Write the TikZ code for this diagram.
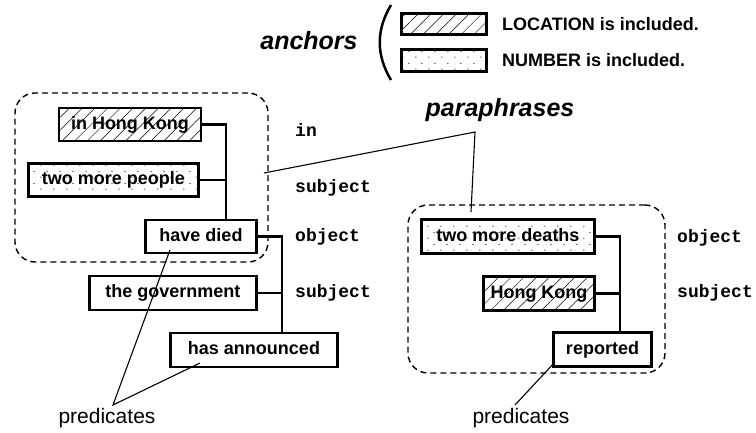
\documentclass[tikz,border=0pt]{standalone}
\usepackage{fontspec}
\setmainfont{Liberation Sans}
\newfontfamily\monofont{Liberation Mono}
\usetikzlibrary{patterns.meta}
\pgfdeclarepattern{
  name=sparsedots,
  parameters={},
  bottom left={\pgfpoint{0pt}{0pt}},
  top right={\pgfpoint{12.5pt}{12pt}},
  tile size={\pgfpoint{12.5pt}{12pt}},
  code={
    \pgfpathcircle{\pgfpoint{3pt}{3pt}}{0.65pt}
    \pgfpathcircle{\pgfpoint{9.25pt}{9pt}}{0.65pt}
    \pgfusepath{fill}
  }
}
\begin{document}
\begin{tikzpicture}[x=1pt,y=-1pt,
 box/.style={draw, line width=2.6pt, inner sep=0pt, font=\fontsize{18}{20}\selectfont\bfseries, text height=13pt, text depth=4pt},
 hatch/.style={box, pattern={Lines[angle=45,distance=9pt,line width=0.5pt]}},
 dotty/.style={box, pattern=sparsedots},
 conn/.style={line width=2.6pt},
 grp/.style={draw, line width=1.4pt, dash pattern=on 6pt off 4pt, rounded corners=20pt, inner sep=0pt},
 rel/.style={anchor=base west, inner sep=0pt, font=\fontsize{18}{20}\monofont\bfseries},
 thin/.style={line width=1.1pt},
 hdr/.style={font=\fontsize{25}{28}\selectfont\bfseries\itshape, inner sep=0pt},
 pred/.style={font=\fontsize{21}{24}\selectfont, inner sep=0pt},
 leg/.style={anchor=west, inner sep=0pt, font=\fontsize{18}{20}\selectfont\bfseries},
]
\useasboundingbox (0,0) rectangle (756,432);

% legend
\node[hdr] (anch) at (309,41) {anchors};
\draw[line width=2.5pt] (391,5) .. controls (376,30) and (376,55) .. (391,80);
\node[hatch, minimum width=85pt, minimum height=21pt] (loc) at (444,24) {};
\node[dotty, minimum width=85pt, minimum height=22pt] (num) at (444,60.5) {};
\node[leg] (locl) at (502,24) {LOCATION is included.};
\node[leg] (numl) at (502,60) {NUMBER is included.};

% groups
\node[grp, minimum width=253pt, minimum height=169pt] (g1) at (141.5,177.5) {};
\node[grp, minimum width=257pt, minimum height=168pt] (g2) at (536.5,289) {};

% left tree
\node[hatch, minimum width=142pt, minimum height=33pt] (ihk) at (130,124.5) {in Hong Kong};
\node[dotty, minimum width=170pt, minimum height=33pt] (tmp) at (113.5,180) {two more people};
\node[box, fill=white, minimum width=111pt, minimum height=33pt] (hd) at (201,236.5) {have died};
\node[box, fill=white, minimum width=167pt, minimum height=34pt] (gov) at (173,293) {the government};
\node[box, fill=white, minimum width=167pt, minimum height=34pt] (ha) at (254,350) {has announced};

\coordinate (j1) at ([xshift=25pt]hd.north);
\coordinate (j2) at ([xshift=28pt]ha.north);
\draw[conn] (ihk.east) -| (j1);
\draw[conn] (tmp.east) -- (tmp.east -| j1);
\draw[conn] (hd.east) -| (j2);
\draw[conn] (gov.east) -- (gov.east -| j2);

\node[rel] (r1) at (295,136) {in};
\node[rel] (r2) at (295,192) {subject};
\node[rel] (r3) at (295,241) {object};
\node[rel] (r4) at (295,297) {subject};

% right tree
\node[dotty, minimum width=173pt, minimum height=34pt] (tmd) at (508,236.5) {two more deaths};
\node[hatch, minimum width=111pt, minimum height=34pt] (hk) at (539,293.5) {Hong Kong};
\node[box, fill=white, minimum width=98pt, minimum height=34pt] (rep) at (602.5,349.5) {reported};
\coordinate (j3) at ([xshift=17.5pt]rep.north);
\draw[conn] (tmd.east) -| (j3);
\draw[conn] (hk.east) -- (hk.east -| j3);

\node[rel] (r5) at (677,242) {object};
\node[rel] (r6) at (677,297) {subject};

% paraphrases
\node[hdr] (para) at (500,110) {paraphrases};
\coordinate (pa) at (475,132);
\coordinate (pl) at (264,173);
\coordinate (pr) at (471,212);
\draw[thin] (pl) -- (pa) -- (pr);

% predicates
\node[pred] (p1) at (107,418) {predicates};
\node[pred] (p2) at (521,418) {predicates};
\coordinate (a1) at (113,405);
\coordinate (a2) at (515,405);
\coordinate (e1) at (170,250);
\coordinate (e2) at (200,363);
\coordinate (e3) at (555,362);
\draw[thin] (e1) -- (a1) -- (e2);
\draw[thin] (a2) -- (e3);
\end{tikzpicture}
\end{document}
